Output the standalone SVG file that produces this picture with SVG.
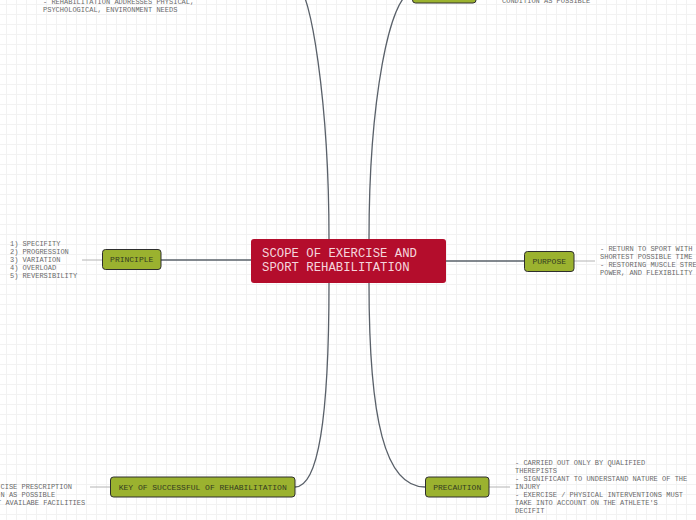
<svg xmlns="http://www.w3.org/2000/svg" width="696" height="520" viewBox="0 0 696 520">
<defs>
<pattern id="grid" x="6" y="4" width="10" height="10" patternUnits="userSpaceOnUse">
<rect x="0" y="0" width="10" height="1" fill="#f2f2f2"/>
<rect x="0" y="0" width="1" height="10" fill="#f2f2f2"/>
</pattern>
<style>
.conn{fill:none;stroke:#596069;stroke-width:1.3}
.lead{fill:none;stroke:#b4b4b4;stroke-width:1}
.node rect{fill:#9bb22f;stroke:#2e2e2e;stroke-width:1}
.lbl{font-family:"Liberation Mono","DejaVu Sans Mono",monospace;font-size:8px;fill:#333a22;text-anchor:middle}
.note{font-family:"Liberation Mono","DejaVu Sans Mono",monospace;font-size:7px;fill:#6a6a6a}
.ctext{font-family:"Liberation Mono","DejaVu Sans Mono",monospace;font-size:12.3px;fill:#f4d6dd}
</style>
</defs>
<rect width="696" height="520" fill="#ffffff"/>
<rect width="696" height="520" fill="url(#grid)"/>

<g id="connectors">
<path class="conn" d="M329,239 C329,100 310,-12 298,-12"/>
<path class="conn" d="M369,239 C369,100 390,-7 412,-7"/>
<path class="conn" d="M329,283 C329,420 318,487 295,487"/>
<path class="conn" d="M369,283 C369,420 385,487 425,487"/>
<path class="conn" d="M251,260 L161,260"/>
<path class="conn" d="M446,261 L524,261"/>
<path class="lead" d="M102,260 L82,260"/>
<path class="lead" d="M574,261 L595,261"/>
<path class="lead" d="M110,487 L90,487"/>
<path class="lead" d="M489,487 L510,487"/>
</g>

<g id="center">
<rect x="251" y="239" width="195" height="44" rx="3" fill="#b40d2c"/>
<text class="ctext" x="262" y="257">SCOPE OF EXERCISE AND</text>
<text class="ctext" x="262" y="271">SPORT REHABILITATION</text>
</g>

<g id="topleft-note">
<text class="note" x="43" y="3.5">- REHABILITATION ADDRESSES PHYSICAL,</text>
<text class="note" x="43" y="11.5">PSYCHOLOGICAL, ENVIRONMENT NEEDS</text>
</g>

<g id="topright" class="node">
<rect x="412.5" y="-17" width="63.5" height="20" rx="3"/>
</g>
<g id="topright-note">
<text class="note" x="502" y="2.5">CONDITION AS POSSIBLE</text>
</g>

<g id="principle" class="node">
<rect x="102.5" y="249.5" width="58.5" height="20" rx="3"/>
<text class="lbl" x="131.7" y="262.3">PRINCIPLE</text>
</g>
<g id="principle-note">
<text class="note" x="10" y="245.5">1) SPECIFITY</text>
<text class="note" x="10" y="253.5">2) PROGRESSION</text>
<text class="note" x="10" y="261.5">3) VARIATION</text>
<text class="note" x="10" y="269.5">4) OVERLOAD</text>
<text class="note" x="10" y="277.5">5) REVERSIBILITY</text>
</g>

<g id="purpose" class="node">
<rect x="524.5" y="251.5" width="49.5" height="20" rx="3"/>
<text class="lbl" x="549.2" y="264">PURPOSE</text>
</g>
<g id="purpose-note">
<text class="note" x="600" y="250.5">- RETURN TO SPORT WITH</text>
<text class="note" x="600" y="258.5">SHORTEST POSSIBLE TIME</text>
<text class="note" x="600" y="266.5">- RESTORING MUSCLE STRENGTH,</text>
<text class="note" x="600" y="274.5">POWER, AND FLEXIBILITY</text>
</g>

<g id="key" class="node">
<rect x="110.5" y="477" width="184.5" height="20" rx="3"/>
<text class="lbl" x="202.7" y="489.6">KEY OF SUCCESSFUL OF REHABILITATION</text>
</g>
<g id="key-note">
<text class="note" x="0.5" y="489">CISE PRESCRIPTION</text>
<text class="note" x="0.5" y="497">N AS POSSIBLE</text>
<text class="note" x="-3" y="505">T AVAILABE FACILITIES</text>
</g>

<g id="precaution" class="node">
<rect x="425.5" y="477" width="63.5" height="20" rx="3"/>
<text class="lbl" x="457.2" y="489.6">PRECAUTION</text>
</g>
<g id="precaution-note">
<text class="note" x="515" y="465">- CARRIED OUT ONLY BY QUALIFIED</text>
<text class="note" x="515" y="473">THEREPISTS</text>
<text class="note" x="515" y="481">- SIGNIFICANT TO UNDERSTAND NATURE OF THE</text>
<text class="note" x="515" y="489">INJURY</text>
<text class="note" x="515" y="497">- EXERCISE / PHYSICAL INTERVENTIONS MUST</text>
<text class="note" x="515" y="505">TAKE INTO ACCOUNT ON THE ATHLETE'S</text>
<text class="note" x="515" y="513">DECIFIT</text>
</g>
</svg>
